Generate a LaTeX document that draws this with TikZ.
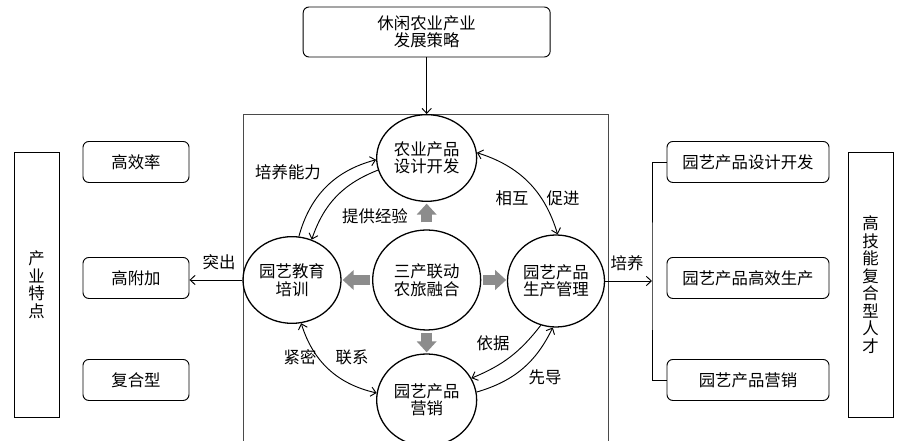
\documentclass[tikz,border=0pt]{standalone}
\usepackage{fontspec}
\newfontfamily\cjk{Noto Sans CJK SC}
\usetikzlibrary{arrows.meta, shapes.geometric, calc}
\definecolor{cgrey}{HTML}{8C8C8C}
\definecolor{cframe}{HTML}{4A4A4A}
\tikzset{
  every picture/.style={font=\cjk\fontsize{14pt}{15pt}\selectfont, line width=0.8pt},
  circ/.style={ellipse, draw, line width=1.1pt, minimum width=3cm, minimum height=2.6cm, align=center, inner sep=0pt},
  box/.style={draw, rounded corners=5pt, align=center, minimum height=1.23cm},
  tall/.style={draw, align=center, minimum width=1.35cm, minimum height=7.95cm},
  arrow/.style={-{Straight Barb[length=1.5mm, width=2.8mm]}},
  both/.style={{Straight Barb[length=1.5mm, width=2.8mm]}-{Straight Barb[length=1.5mm, width=2.8mm]}},
  fat/.style={-{Triangle[length=0.33cm, width=0.58cm]}, draw=cgrey, line width=0.32cm},
  note/.style={inner sep=1pt},
}

\begin{document}
\begin{tikzpicture}
  \useasboundingbox (0,0) rectangle (27.09,13.23);
  % strategy on top, frame round the circles
  \node[box, minimum width=7.41cm, minimum height=1.5cm] (strat) at (12.8,12.27) {休闲农业产业\\发展策略};
  \draw[cframe] (7.29,0) -- (7.29,9.81) -- (18.24,9.81) -- (18.24,0);
  \node[circ] (design) at (12.8,8.49) {农业产品\\设计开发};
  \node[circ, minimum width=2.94cm] (edu) at (8.76,4.83) {园艺教育\\培训};
  \node[circ, minimum width=3.24cm, minimum height=3cm] (core) at (12.8,4.83) {三产联动\\农旅融合};
  \node[circ, minimum width=2.91cm, minimum height=2.76cm] (prod) at (16.68,4.80) {园艺产品\\生产管理};
  \node[circ, minimum height=2.76cm] (sale) at (12.8,1.23) {园艺产品\\营销};
  \draw[arrow] (strat) -- (design);
  % grey arrows out of the core
  \draw[fat, shorten <=0.21cm, shorten >=0.05cm] (core.north) -- (core.north |- design.south);
  \draw[fat, shorten <=0.06cm, shorten >=0.03cm] (core.west) -- (core.west -| edu.east);
  \draw[fat, shorten <=0.06cm, shorten >=0.02cm] (core.east) -- (core.east -| prod.west);
  \draw[fat, shorten <=0.06cm, shorten >=0.03cm] (core.south) -- (core.south |- sale.north);
  % bent links between the circles
  \draw[arrow] (edu.81) to[bend left=30] (design.182);
  \draw[arrow] (design.194) to[bend right=25] (edu.64);
  \draw[both] (design.6) to[bend left=28] (prod.88);
  \draw[both] (edu.282) to[bend right=30] (sale.172);
  \draw[arrow] (prod.251) to[bend left=15] (sale.26);
  \draw[arrow] (sale.9) to[bend right=24] (prod.266);
  \node[note] (ability) at (8.64,8.07) {培养能力};
  \node[note] (exp) at (11.25,6.75) {提供经验};
  \node[note] (mutual) at (15.36,7.29) {相互};
  \node[note] (promote) at (16.89,7.29) {促进};
  \node[note] (close) at (9.0,2.52) {紧密};
  \node[note] (link) at (10.56,2.52) {联系};
  \node[note] (basis) at (14.79,2.94) {依据};
  \node[note] (lead) at (16.35,1.92) {先导};
  % left side
  \node[tall] (trait) at (1.095,4.69) {产\\业\\特\\点};
  \node[box, minimum width=3.18cm] (lb1) at (4.08,8.37) {高效率};
  \node[box, minimum width=3.18cm] (lb2) at (4.08,4.89) {高附加};
  \node[box, minimum width=3.18cm] (lb3) at (4.08,1.83) {复合型};
  \draw[arrow] (edu.west) -- (edu.west -| lb2.east);
  \node[note] (stand) at (6.57,5.37) {突出};
  % right side
  \node[box, minimum width=4.86cm] (rb1) at (22.44,8.37) {园艺产品设计开发};
  \node[box, minimum width=4.86cm] (rb2) at (22.44,4.89) {园艺产品高效生产};
  \node[box, minimum width=4.86cm] (rb3) at (22.44,1.83) {园艺产品营销};
  \node[tall] (talent) at (26.115,4.69) {高\\技\\能\\复\\合\\型\\人\\才};
  \coordinate (brk) at (19.56,4.80);
  \draw[arrow] (prod.east) -- (brk);
  \draw (rb1.west) -| (brk) |- (rb3.west);
  \node[note] (train) at (18.81,5.34) {培养};
\end{tikzpicture}
\end{document}
